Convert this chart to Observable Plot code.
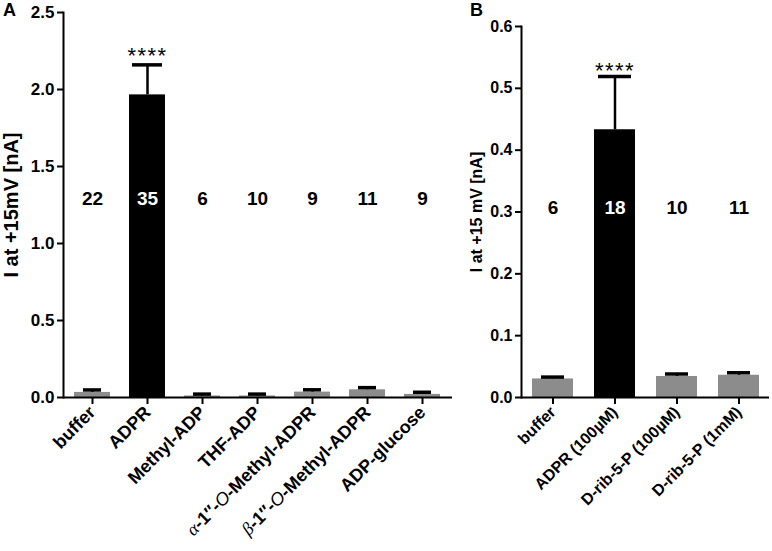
<!DOCTYPE html>
<html>
<head>
<meta charset="utf-8">
<script src="https://cdn.jsdelivr.net/npm/d3@7"></script>
<script src="https://cdn.jsdelivr.net/npm/@observablehq/plot@0.6"></script>
<style>
  body { margin: 0; background: #fff; }
  #wrap { position: relative; width: 772px; height: 551px; font-family: "Liberation Sans", Arial, sans-serif; }
  .panel { position: absolute; top: 0; }
  .plab { position: absolute; font-weight: bold; font-size: 18px; line-height: 1; }
</style>
</head>
<body>
<div id="wrap">
  <div class="plab" style="left:3px;top:1px">A</div>
  <div class="plab" style="left:470px;top:1px">B</div>
</div>
<script>
// Panel A data
const catsA = ["buffer", "ADPR", "Methyl-ADP", "THF-ADP", "α-1′′-O-Methyl-ADPR", "β-1′′-O-Methyl-ADPR", "ADP-glucose"];
const meanA = [0.033, 1.965, 0.010, 0.010, 0.035, 0.050, 0.020];
const semA  = [0.016, 0.195, 0.012, 0.012, 0.015, 0.014, 0.014];
const nA    = [22, 35, 6, 10, 9, 11, 9];
const ticksA = [0, 0.5, 1.0, 1.5, 2.0, 2.5];

// Panel B data
const catsB = ["buffer", "ADPR (100µM)", "D-rib-5-P (100µM)", "D-rib-5-P (1mM)"];
const meanB = [0.030, 0.433, 0.034, 0.036];
const semB  = [0.003, 0.086, 0.004, 0.004];
const nB    = [6, 18, 10, 11];
const ticksB = [0, 0.1, 0.2, 0.3, 0.4, 0.5, 0.6];

const highlight = "ADPR";
const gray = "#8c8c8c";

function panel(cats, mean, sem, n, ticks, opts) {
  const data = cats.map((c, i) => ({cat: c, v: mean[i], e: mean[i] + sem[i], n: n[i], hi: c.startsWith(highlight)}));
  const big = data.filter(d => d.hi);
  const small = data.filter(d => !d.hi);
  return Plot.plot({
    width: opts.width, height: 551,
    marginLeft: opts.ml, marginRight: opts.mr, marginTop: opts.mt, marginBottom: 154,
    style: {fontFamily: "Liberation Sans, Arial, sans-serif", fontWeight: "bold", fontSize: "15px", color: "#000", background: "transparent", overflow: "visible"},
    x: {domain: cats, paddingInner: 0.34, paddingOuter: 0.17},
    y: {domain: [0, ticks[ticks.length - 1]]},
    marks: [
      Plot.barY(data, {x: "cat", y: "v", fill: d => d.hi ? "#000" : gray}),
      Plot.ruleX(data, {x: "cat", y1: "v", y2: "e", stroke: "#000", strokeWidth: 2.5}),
      Plot.tickY(big, {x: "cat", y: "e", stroke: "#000", strokeWidth: 3.5, inset: opts.bigInset}),
      Plot.tickY(small, {x: "cat", y: "e", stroke: "#000", strokeWidth: 3.5, inset: opts.smallInset}),
      Plot.text(big, {x: "cat", y: "e", text: () => "****", dy: opts.starDy, fontSize: 22, fontWeight: "normal", fill: "#000"}),
      Plot.text(data, {x: "cat", y: () => opts.nY, text: "n", fontSize: 19, fontWeight: "bold", fill: d => d.hi ? "#fff" : "#000"}),
      Plot.axisY({ticks, tickFormat: ".1f", tickSize: 6, strokeWidth: 2, tickPadding: 3, fontSize: opts.tickSize,
        label: opts.ylabel, labelAnchor: "center", labelArrow: "none", labelOffset: opts.labelOffset}),
      Plot.axisX({tickSize: 7, strokeWidth: 2, tickRotate: -45, tickPadding: 5, label: null, fontSize: opts.xSize}),
      Plot.ruleY([0], {stroke: "#000", strokeWidth: 2}),
      Plot.frame({anchor: "left", stroke: "#000", strokeWidth: 2})
    ]
  });
}

const A = panel(catsA, meanA, semA, nA, ticksA, {
  width: 460, ml: 63, mr: 8, mt: 12, bigInset: 3, smallInset: 9, starDy: -9,
  nY: 1.289, ylabel: "I at +15mV [nA]", labelOffset: 60, tickSize: 17, xSize: 18
});
const B = panel(catsB, meanB, semB, nB, ticksB, {
  width: 312, ml: 61, mr: 3, mt: 26, bigInset: 4, smallInset: 9, starDy: -6,
  nY: 0.307, ylabel: "I at +15 mV [nA]", labelOffset: 51, tickSize: 16, xSize: 16
});

// axis label font size + styled alpha/beta labels
function fixLabels(svg, size) {
  svg.querySelectorAll("text").forEach(t => {
    const s = t.textContent;
    if (s.startsWith("I at +15")) t.setAttribute("font-size", size);
    if (s === "****") t.setAttribute("letter-spacing", "1.5");
    if (/^[αβ]-1′′-O-/.test(s)) {
      const greek = s[0];
      const rest = s.slice(1);
      const k = rest.indexOf("O");
      const ns = "http://www.w3.org/2000/svg";
      const target = t.querySelector("tspan") || t;
      target.textContent = "";
      const g = document.createElementNS(ns, "tspan"); g.textContent = greek; g.setAttribute("font-family", "Liberation Serif"); g.setAttribute("font-weight", "normal"); g.setAttribute("font-style", "italic");
      const p = document.createElementNS(ns, "tspan"); p.textContent = rest.slice(0, k);
      const o = document.createElementNS(ns, "tspan"); o.textContent = "O"; o.setAttribute("font-style", "italic"); o.setAttribute("font-weight", "normal");
      const q = document.createElementNS(ns, "tspan"); q.textContent = rest.slice(k + 1);
      target.append(g, p, o, q);
    }
  });
}
fixLabels(A, 20);
fixLabels(B, 16);

const wrap = document.getElementById("wrap");
const dA = document.createElement("div"); dA.className = "panel"; dA.style.left = "0px"; dA.appendChild(A);
const dB = document.createElement("div"); dB.className = "panel"; dB.style.left = "460px"; dB.appendChild(B);
wrap.prepend(dB); wrap.prepend(dA);
</script>
</body>
</html>
